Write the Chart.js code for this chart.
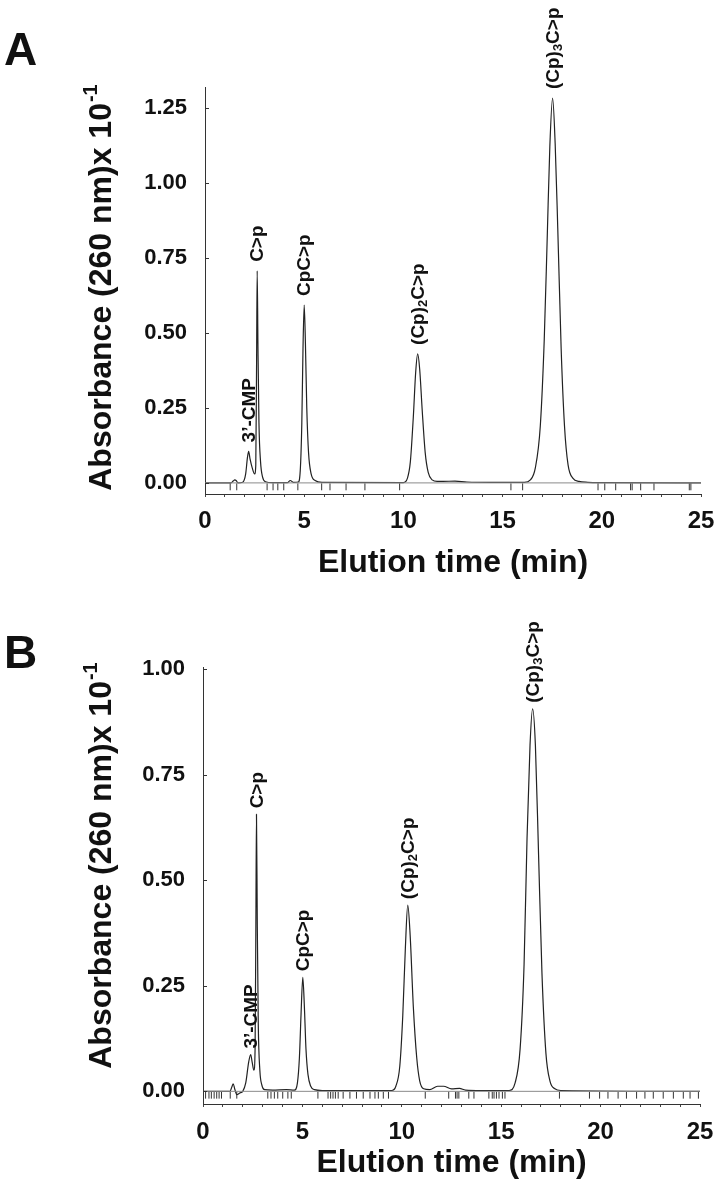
<!DOCTYPE html>
<html>
<head>
<meta charset="utf-8">
<script src="https://cdn.jsdelivr.net/npm/chart.js@4.4.1/dist/chart.umd.min.js"></script>
<style>
  body { margin: 0; background: #fff; width: 726px; height: 1199px; overflow: hidden; position: relative; }
  canvas { position: absolute; left: 0; }
  #chartA { top: 0; }
  #chartB { top: 600px; }
</style>
</head>
<body>
<canvas id="chartA" width="726" height="600"></canvas>
<canvas id="chartB" width="726" height="599"></canvas>
<script>
// ---- data ----
const peakNames = ["3’-CMP", "C>p", "CpC>p", "(Cp)_2C>p", "(Cp)_3C>p"];
const yTicksA = [0, 0.25, 0.5, 0.75, 1.0, 1.25];
const yTicksB = [0, 0.25, 0.5, 0.75, 1.0];

// panel A trace (min, absorbance x10^-1)
const timeA = [0, 1.3, 1.42, 1.5, 1.58, 1.66, 1.9, 2.05, 2.14, 2.2, 2.27, 2.38, 2.5, 2.56, 2.6, 2.63, 2.67, 2.72, 2.8, 2.9, 3.05, 3.4,
  4.15, 4.3, 4.45, 4.7, 4.8, 4.88, 4.94, 5.0, 5.06, 5.13, 5.22, 5.35, 5.55, 5.9,
  10.0, 10.2, 10.35, 10.5, 10.62, 10.72, 10.82, 10.95, 11.1, 11.25, 11.45, 11.7, 12.0, 12.6, 13.2, 14.5,
  16.1, 16.4, 16.65, 16.9, 17.1, 17.25, 17.38, 17.52, 17.65, 17.78, 17.95, 18.12, 18.3, 18.55, 18.85, 19.3, 20, 25];
const absA = [0, 0, 0.006, 0.01, 0.007, 0, 0.002, 0.03, 0.085, 0.105, 0.08, 0.05, 0.03, 0.06, 0.4, 0.707, 0.45, 0.2, 0.07, 0.02, 0.004, 0.001,
  0.001, 0.008, 0.002, 0.003, 0.04, 0.2, 0.45, 0.593, 0.47, 0.25, 0.1, 0.03, 0.008, 0.002,
  0.001, 0.015, 0.07, 0.22, 0.37, 0.43, 0.38, 0.24, 0.1, 0.035, 0.01, 0.005, 0.005, 0.006, 0.003, 0.002,
  0.002, 0.01, 0.05, 0.19, 0.48, 0.82, 1.12, 1.283, 1.13, 0.85, 0.45, 0.19, 0.06, 0.015, 0.005, 0.002, 0.001, 0];
const peakTimeA = [2.2, 2.63, 5.0, 10.72, 17.52];
const peakAbsA = [0.105, 0.707, 0.593, 0.43, 1.283];
const markA = [1.27, 1.6, 3.13, 3.43, 3.67, 3.97, 4.68, 5.88, 6.3, 7.11, 8.06, 9.81, 15.42, 16.01,
  19.81, 20.15, 20.7, 21.45, 21.53, 21.96, 22.63, 24.41, 24.49];

// panel B trace
const timeB = [0, 1.35, 1.45, 1.52, 1.6, 1.7, 1.85, 2.0, 2.15, 2.3, 2.4, 2.47, 2.56, 2.62, 2.66, 2.69, 2.73, 2.78, 2.86, 2.96, 3.1, 3.5,
  4.2, 4.6, 4.75, 4.85, 4.93, 5.02, 5.1, 5.18, 5.28, 5.42, 5.6, 6.0,
  9.5, 9.7, 9.9, 10.05, 10.18, 10.3, 10.42, 10.58, 10.75, 10.9, 11.1, 11.4, 11.8, 12.1, 12.5, 12.9, 13.2, 14.0,
  15.4, 15.7, 15.95, 16.15, 16.3, 16.45, 16.58, 16.72, 16.88, 17.05, 17.25, 17.45, 17.7, 18.0, 25];
const absB = [0, 0, 0.01, 0.018, 0.005, -0.008, -0.004, 0, 0.02, 0.07, 0.087, 0.07, 0.05, 0.1, 0.4, 0.656, 0.4, 0.16, 0.05, 0.015, 0.004, 0.003,
  0.004, 0.003, 0.02, 0.08, 0.18, 0.27, 0.2, 0.1, 0.04, 0.012, 0.004, 0.002,
  0.002, 0.012, 0.06, 0.18, 0.34, 0.441, 0.37, 0.2, 0.08, 0.025, 0.006, 0.004, 0.012, 0.012, 0.006, 0.007, 0.003, 0.002,
  0.002, 0.02, 0.1, 0.3, 0.6, 0.82, 0.906, 0.82, 0.56, 0.28, 0.09, 0.025, 0.006, 0.002, 0];
const peakTimeB = [2.4, 2.69, 5.02, 10.3, 16.58];
const peakAbsB = [0.087, 0.656, 0.27, 0.441, 0.906];
const markB = [0.13, 0.3, 0.42, 0.56, 0.69, 0.81, 0.93, 1.37, 1.7, 3.26, 3.42, 3.59, 3.76, 4.01, 4.27, 4.44,
  5.78, 6.29, 6.42, 6.54, 6.66, 6.8, 7.05, 7.39, 7.72, 8.06, 8.4, 8.65, 8.82, 9.07, 9.33,
  11.18, 12.36, 12.7, 12.78, 12.87, 13.37, 13.63, 14.38, 14.55, 14.64, 14.76, 14.89, 15.06, 15.19,
  17.93, 19.44, 19.95, 20.37, 20.88, 21.3, 21.81, 22.23, 22.65, 23.15, 23.66, 24.16, 24.5, 24.92];

const FONT = '"Liberation Sans", Arial, sans-serif';
const INK = '#111';
Chart.defaults.font.family = FONT;
Chart.defaults.color = INK;

// peak names, rotated, just above each peak top
const peakLabels = {
  id: 'peakLabels',
  afterDatasetsDraw(chart, args, o) {
    const { ctx, scales: { x, y } } = chart;
    o.names.forEach((name, i) => {
      const px = x.getPixelForValue(o.times[i]) + 1;
      const py = y.getPixelForValue(o.heights[i]) - o.gap;
      ctx.save();
      ctx.translate(px, py);
      ctx.rotate(-Math.PI / 2);
      ctx.fillStyle = INK;
      ctx.textBaseline = 'middle';
      let cx = 0;
      name.split(/_(\d)/).forEach((part, k) => {
        const sub = k % 2 === 1;
        ctx.font = 'bold ' + (sub ? 13 : 19) + 'px ' + FONT;
        ctx.fillText(part, cx, sub ? 5 : 0);
        cx += ctx.measureText(part).width;
      });
      ctx.restore();
    });
  }
};

// small inward tick marks on the y axis + panel letter + y title with superscript
const decor = {
  id: 'decor',
  afterDraw(chart, args, o) {
    const { ctx, chartArea, scales: { y } } = chart;
    ctx.save();
    ctx.strokeStyle = '#333';
    ctx.lineWidth = 1;
    y.ticks.forEach(t => {
      const py = Math.round(y.getPixelForValue(t.value)) + 0.5;
      ctx.beginPath();
      ctx.moveTo(chartArea.left, py);
      ctx.lineTo(chartArea.left + 4, py);
      ctx.stroke();
    });
    ctx.fillStyle = INK;
    ctx.font = 'bold 46px ' + FONT;
    ctx.textBaseline = 'alphabetic';
    ctx.fillText(o.letter, 4, o.letterY);

    ctx.translate(o.titleX, o.titleY);
    ctx.rotate(-Math.PI / 2);
    ctx.font = 'bold 32px ' + FONT;
    const w1 = ctx.measureText(o.title).width;
    ctx.font = 'bold 20px ' + FONT;
    const w2 = ctx.measureText(o.sup).width;
    const x0 = -(w1 + w2) / 2;
    ctx.font = 'bold 32px ' + FONT;
    ctx.fillText(o.title, x0, 11);
    ctx.font = 'bold 20px ' + FONT;
    ctx.fillText(o.sup, x0 + w1 + 1, -3);
    ctx.restore();
  }
};

function pts(ts, vs) {
  return ts.map((t, i) => ({ x: t, y: vs[i] }));
}

function makeChart(id, p) {
  return new Chart(document.getElementById(id), {
    type: 'line',
    data: {
      datasets: [
        { data: [{ x: 0, y: 0 }, { x: 25, y: 0 }], borderColor: '#8a8a8a', borderWidth: 1, pointRadius: 0 },
        { data: pts(p.time, p.abs), borderColor: '#222', borderWidth: 1.2, pointRadius: 0, cubicInterpolationMode: 'monotone' },
        {
          type: 'scatter', data: p.marks.map(t => ({ x: t, y: p.markY })),
          pointStyle: 'line', pointRotation: 90, pointRadius: 3.5, pointBorderColor: '#333', pointBorderWidth: 1
        }
      ]
    },
    options: {
      responsive: false,
      animation: false,
      devicePixelRatio: 1,
      events: [],
      layout: { padding: { left: 0, right: p.padRight, top: p.padTop, bottom: 0 } },
      plugins: {
        legend: { display: false },
        tooltip: { enabled: false },
        peakLabels: { names: peakNames, times: p.peakTime, heights: p.peakAbs, gap: p.gap },
        decor: { letter: p.letter, letterY: p.letterY, title: 'Absorbance (260 nm)x 10', sup: '-1', titleX: 100, titleY: p.titleY }
      },
      scales: {
        x: {
          type: 'linear', min: 0, max: 25,
          ticks: {
            stepSize: 1, autoSkip: false, maxRotation: 0, padding: p.xPad, color: INK,
            font: { size: 24, weight: 'bold' },
            callback: v => (v % 5 === 0 ? String(v) : '')
          },
          grid: { display: true, drawOnChartArea: false, drawTicks: true, tickLength: 3, color: '#444' },
          border: { display: true, color: '#333', width: 1 },
          title: { display: true, text: 'Elution time (min)', color: INK, font: { size: 32, weight: 'bold' }, padding: { top: 0, bottom: p.titlePad } },
          afterFit(s) { s.height = p.xHeight; }
        },
        y: {
          min: p.yMin, max: p.yMax,
          afterBuildTicks(s) { s.ticks = p.yTicks.map(v => ({ value: v })); },
          ticks: { padding: 10, color: INK, font: { size: 22, weight: 'bold' }, callback: v => Number(v).toFixed(2) },
          grid: { display: false },
          border: { display: true, color: '#333', width: 1 },
          afterFit(s) { s.width = p.yWidth; }
        }
      }
    },
    plugins: [peakLabels, decor]
  });
}

makeChart('chartA', {
  time: timeA, abs: absA, marks: markA, markY: -0.013,
  peakTime: peakTimeA, peakAbs: peakAbsA, gap: 9,
  yMin: -0.037, yMax: 1.32, yTicks: yTicksA,
  padTop: 87, padRight: 25, yWidth: 205, xHeight: 106, xPad: 10, titlePad: 18,
  letter: 'A', letterY: 65, titleY: 288
});

makeChart('chartB', {
  time: timeB, abs: absB, marks: markB, markY: -0.009,
  peakTime: peakTimeB, peakAbs: peakAbsB, gap: 6,
  yMin: -0.03, yMax: 1.005, yTicks: yTicksB,
  padTop: 67, padRight: 26, yWidth: 203, xHeight: 95, xPad: 11, titlePad: 17,
  letter: 'B', letterY: 68, titleY: 266
});
</script>
</body>
</html>
